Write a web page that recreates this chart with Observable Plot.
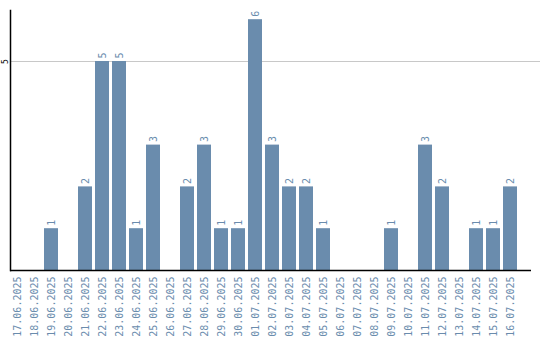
<!DOCTYPE html>
<html><head><meta charset="utf-8">
<script src="https://cdn.jsdelivr.net/npm/d3@7"></script>
<script src="https://cdn.jsdelivr.net/npm/@observablehq/plot@0.6"></script>
<style>body{margin:0;background:#fff}</style>
</head><body><div id="chart"></div>
<script>
const dates = ["17.06.2025","18.06.2025","19.06.2025","20.06.2025","21.06.2025","22.06.2025","23.06.2025","24.06.2025","25.06.2025","26.06.2025","27.06.2025","28.06.2025","29.06.2025","30.06.2025","01.07.2025","02.07.2025","03.07.2025","04.07.2025","05.07.2025","06.07.2025","07.07.2025","08.07.2025","09.07.2025","10.07.2025","11.07.2025","12.07.2025","13.07.2025","14.07.2025","15.07.2025","16.07.2025"];
const counts = [0,0,1,0,2,5,5,1,3,0,2,3,1,1,6,3,2,2,1,0,0,0,1,0,3,2,0,1,1,2];
const yTicks = [5];
const data = dates.map((d,i)=>({date:d, value:counts[i]}));
const color = "#6a8cad";
const font = "DejaVu Sans Mono";
const chart = Plot.plot({
  width: 540, height: 340,
  marginTop: 10, marginBottom: 70, marginLeft: 10, marginRight: 9,
  style: {fontFamily: font, background: "#fff"},
  x: {domain: dates, range: [10, 517], paddingInner: 3/17, paddingOuter: 0, axis: null, label: null},
  y: {domain: [0, 6.22], axis: null, label: null},
  marks: [
    Plot.ruleY(yTicks, {stroke: "#c8c8c8", insetRight: -9}),
    Plot.barY(data.filter(d=>d.value>0), {x: "date", y: "value", fill: color}),
    Plot.text(data.filter(d=>d.value>0), {x: "date", y: "value", text: d=>String(d.value), rotate: -90, textAnchor: "start", dy: -3, fill: color, fontSize: 10, fontFamily: font}),
    Plot.axisX({tickRotate: -90, tickSize: 0, tickPadding: 6, fill: color, fontSize: 10, fontFamily: font, label: null}),
    Plot.text(yTicks, {y: d=>d, frameAnchor: "left", dx: -5, text: d=>String(d), rotate: -90, textAnchor: "middle", fontSize: 8, fill: "#000", fontFamily: font}),
    Plot.frame({anchor: "left", stroke: "#000", strokeWidth: 1.5}),
    Plot.ruleY([0], {stroke: "#000", strokeWidth: 1.5})
  ]
});
document.getElementById("chart").append(chart);
</script></body></html>
